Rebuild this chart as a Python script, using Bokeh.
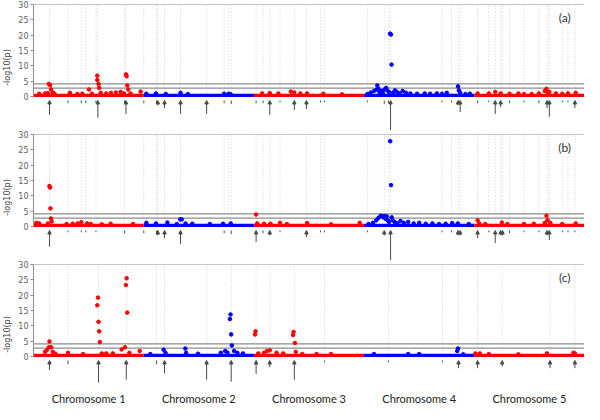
from bokeh.plotting import figure
from bokeh.layouts import column
from bokeh.models import Range1d, FixedTicker, ColumnDataSource, Arrow, NormalHead
from bokeh.core.properties import value
from bokeh.embed import file_html
from bokeh.resources import INLINE

# ---------------- data ----------------
CHROM_NAMES = ["Chromosome 1", "Chromosome 2", "Chromosome 3", "Chromosome 4", "Chromosome 5"]
CHROM_START = [0, 1, 2, 3, 4]
CHROM_END = [1, 2, 3, 4, 5]
BASELINE = 0.35
THRESH_HI = 4.1
THRESH_LO = 2.75
Y_TICKS = [0, 5, 10, 15, 20, 25, 30]

# panel (a) markers (genome position in chromosome units, -log10 p)
A_X = [0.052, 0.104, 0.130, 0.139, 0.150, 0.159, 0.174, 0.191, 0.330, 0.399, 0.443, 0.503, 0.530,
       0.579, 0.579, 0.590, 0.596, 0.610, 0.660, 0.703, 0.747, 0.790, 0.820, 0.839, 0.845, 0.851,
       0.860, 0.880, 0.972,
       1.024, 1.111, 1.200, 1.334, 1.400, 1.730, 1.771, 1.790,
       2.075, 2.144, 2.222, 2.335, 2.367, 2.422, 2.483, 2.630, 2.800,
       3.030, 3.060, 3.090, 3.110, 3.120, 3.130, 3.140, 3.155, 3.170, 3.183, 3.200, 3.210, 3.225,
       3.235, 3.244, 3.249, 3.260, 3.280, 3.300, 3.320, 3.350, 3.380, 3.420, 3.480, 3.550, 3.600,
       3.660, 3.707, 3.750, 3.852, 3.860, 3.872, 3.920, 3.960,
       4.030, 4.132, 4.190, 4.239, 4.320, 4.400, 4.451, 4.520, 4.586, 4.640, 4.655, 4.665, 4.681,
       4.740, 4.798, 4.850, 4.920]
A_Y = [0.9, 1.0, 1.1, 4.1, 3.7, 2.3, 1.3, 0.9, 1.2, 0.8, 0.9, 2.3, 0.9,
       6.8, 5.4, 4.1, 2.8, 1.2, 1.0, 1.2, 1.3, 1.5, 1.0, 7.2, 6.6, 3.6,
       2.3, 1.0, 1.6,
       0.9, 1.0, 0.8, 1.2, 0.8, 0.9, 0.9, 0.7,
       1.0, 1.1, 1.0, 1.6, 1.3, 1.0, 1.0, 0.9, 0.7,
       0.8, 1.3, 1.8, 2.2, 3.6, 2.5, 1.4, 1.8, 1.0, 2.2, 2.8, 2.0, 1.5,
       20.5, 20.2, 10.4, 1.2, 2.0, 1.4, 1.0, 1.8, 1.2, 1.0, 0.9, 1.0, 0.9,
       1.0, 0.9, 1.2, 3.3, 2.0, 1.3, 0.8, 0.9,
       1.0, 1.0, 1.5, 1.0, 0.9, 1.0, 0.8, 0.8, 1.0, 1.8, 2.5, 1.4, 1.5,
       1.0, 0.9, 1.0, 1.2]

B_X = [0.026, 0.052, 0.130, 0.145, 0.150, 0.154, 0.159, 0.165, 0.300, 0.356, 0.399, 0.434, 0.486,
       0.520, 0.620, 0.700, 0.903,
       1.024, 1.111, 1.215, 1.300, 1.330, 1.345, 1.380, 1.441, 1.600, 1.720, 1.790,
       2.020, 2.030, 2.092, 2.150, 2.237, 2.300, 2.483, 2.700, 2.960,
       3.040, 3.080, 3.110, 3.130, 3.150, 3.165, 3.175, 3.185, 3.195, 3.205, 3.215, 3.225,
       3.237, 3.244, 3.250, 3.260, 3.280, 3.300, 3.330, 3.360, 3.400, 3.450, 3.500, 3.560,
       3.620, 3.680, 3.740, 3.800, 3.850, 3.950,
       4.030, 4.045, 4.100, 4.250, 4.300, 4.450, 4.540, 4.640, 4.655, 4.665, 4.690, 4.798, 4.920]
B_Y = [1.2, 1.0, 1.0, 13.2, 12.7, 5.9, 2.6, 1.6, 0.8, 0.9, 1.0, 1.4, 1.0,
       0.8, 0.7, 0.9, 0.8,
       1.2, 1.0, 1.3, 0.8, 2.3, 2.3, 1.0, 0.9, 0.8, 0.9, 1.0,
       3.9, 1.0, 0.9, 0.9, 1.2, 0.8, 1.1, 0.7, 1.2,
       0.8, 1.2, 2.0, 2.8, 3.5, 3.3, 3.0, 3.4, 2.5, 3.3, 2.0, 1.5,
       27.8, 13.5, 3.0, 2.0, 1.4, 1.0, 1.8, 1.2, 1.5, 1.0, 1.2, 0.9,
       1.0, 0.8, 0.9, 1.1, 1.0, 0.8,
       2.0, 1.0, 0.8, 1.3, 0.8, 0.8, 0.9, 1.2, 3.5, 2.0, 1.2, 0.8, 1.0]

C_X = [0.104, 0.120, 0.139, 0.145, 0.160, 0.175, 0.200, 0.313, 0.450,
       0.579, 0.585, 0.590, 0.596, 0.602, 0.620, 0.660, 0.720, 0.800, 0.830,
       0.839, 0.845, 0.851, 0.870, 0.964,
       1.060, 1.181, 1.198, 1.378, 1.385, 1.493, 1.700, 1.740, 1.760,
       1.782, 1.788, 1.794, 1.800, 1.820, 1.850, 1.900,
       2.010, 2.015, 2.040, 2.092, 2.118, 2.144, 2.205, 2.266, 2.355, 2.360, 2.372, 2.380,
       2.439, 2.569, 2.700,
       3.090, 3.400, 3.500, 3.845, 3.852, 3.900,
       4.010, 4.050, 4.132, 4.400, 4.660, 4.900, 4.913]
C_Y = [1.5, 2.0, 3.0, 4.9, 3.0, 1.5, 0.9, 1.2, 0.8,
       16.7, 19.2, 11.3, 8.2, 4.7, 1.0, 1.0, 1.0, 2.3, 3.0,
       23.3, 25.5, 14.3, 1.2, 1.8,
       0.8, 2.2, 1.2, 2.6, 1.2, 0.9, 1.2, 1.8, 1.3,
       12.2, 13.7, 7.2, 3.6, 1.8, 1.2, 1.0,
       7.2, 8.2, 1.0, 1.2, 1.8, 2.0, 1.2, 1.0, 7.0, 8.0, 4.4, 1.5,
       0.8, 0.8, 0.8,
       0.8, 0.8, 0.8, 1.8, 2.6, 0.7,
       1.0, 1.0, 0.8, 0.7, 1.0, 1.2, 1.0]

# candidate gene / QTL positions (dotted lines) and marks below the axis (length in -log10 units)
A_VLINES = [0.145, 0.313, 0.434, 0.475, 0.567, 0.584, 0.827, 0.839, 1.001, 1.117, 1.128, 1.189,
            1.334, 1.571, 1.730, 1.771, 1.794, 2.020, 2.083, 2.144, 2.237, 2.367, 2.477, 2.604,
            2.641, 3.032, 3.183, 3.220, 3.240, 3.707, 3.793, 3.852, 3.872, 4.030, 4.132, 4.190,
            4.239, 4.256, 4.320, 4.451, 4.586, 4.660, 4.681, 4.798, 4.850, 4.913]
A_MARK_X = [0.145, 0.313, 0.434, 0.475, 0.567, 0.584, 0.827, 0.839, 1.001, 1.117, 1.128, 1.189,
            1.334, 1.571, 1.730, 1.794, 2.020, 2.083, 2.144, 2.237, 2.367, 2.477, 2.604, 2.641,
            3.032, 3.183, 3.220, 3.240, 3.707, 3.793, 3.852, 3.872, 4.030, 4.132, 4.190, 4.239,
            4.320, 4.451, 4.586, 4.660, 4.681, 4.798, 4.850, 4.913]
A_MARK_LEN = [4.7, 0.9, 0.9, 0.9, 0.9, 5.6, 1.2, 4.4, 0.9, 0.9, 1.6, 2.5,
              4.4, 4.4, 0.9, 1.2, 0.9, 0.9, 4.7, 0.6, 3.1, 2.8, 0.6, 0.6,
              0.6, 1.2, 0.9, 11.0, 0.6, 0.6, 1.6, 3.75, 0.9, 0.6, 4.4, 2.2,
              0.9, 0.6, 0.9, 2.5, 5.3, 0.6, 0.6, 2.5]

B_VLINES = [0.145, 0.313, 0.434, 0.475, 0.567, 0.827, 1.001, 1.117, 1.128, 1.189,
            1.334, 1.730, 1.771, 1.794, 2.020, 2.083, 2.144, 2.237, 2.477, 2.604,
            2.641, 3.032, 3.183, 3.220, 3.240, 3.707, 3.793, 3.852, 3.872, 4.030, 4.132, 4.190,
            4.239, 4.256, 4.320, 4.451, 4.586, 4.660, 4.681, 4.798, 4.850, 4.913]
B_MARK_X = [0.145, 0.313, 0.434, 0.475, 0.567, 0.827, 1.001, 1.117, 1.128, 1.189, 1.334, 1.730,
            1.794, 2.020, 2.083, 2.144, 2.237, 2.477, 2.604, 2.641, 3.032, 3.183, 3.240, 3.707,
            3.793, 3.852, 3.872, 4.030, 4.132, 4.190, 4.239, 4.256, 4.320, 4.451, 4.586, 4.660,
            4.681, 4.798, 4.850, 4.913]
B_MARK_LEN = [5.3, 0.6, 0.6, 0.6, 0.6, 0.9, 0.9, 1.2, 1.6, 2.5, 4.4, 0.9,
              1.2, 3.75, 0.9, 1.6, 0.6, 2.2, 0.6, 0.6, 0.6, 1.6, 10.0, 0.6,
              0.6, 1.6, 1.6, 2.5, 0.6, 4.1, 1.6, 1.6, 0.9, 0.6, 0.6, 1.6,
              3.1, 0.6, 0.6, 0.6]

C_VLINES = [0.145, 0.313, 0.590, 0.842, 1.117, 1.189, 1.571, 1.794, 2.020, 2.144, 2.367, 2.641,
            3.220, 3.712, 3.857, 4.030, 4.253, 4.687, 4.913]
C_MARK_X = C_VLINES
C_MARK_LEN = [3.1, 1.2, 7.2, 6.25, 1.2, 4.1, 6.25, 6.9, 4.4, 2.2, 6.25, 0.6,
              0.6, 0.6, 2.5, 2.5, 1.9, 2.5, 2.5]

PANEL_TAGS = ["(a)", "(b)", "(c)"]

RED = "#ff0000"
BLUE = "#0000ff"
GRAY = "#8c8c8c"
ARROW = "#4a4a4a"
MARK_TIP = -1.3


def chrom_color(x):
    i = min(int(x), 4)
    return RED if i % 2 == 0 else BLUE


def make_panel(tag, xs, ys, vlines, mark_x, mark_len, height, y_start, labels=False):
    p = figure(width=584, height=height, output_backend="svg", toolbar_location=None,
               x_range=Range1d(0, 5.0), y_range=Range1d(y_start, 30),
               x_axis_location=None, min_border_top=4, min_border_bottom=0,
               min_border_right=0, min_border_left=0)
    p.outline_line_color = None
    p.grid.visible = False
    ya = p.yaxis[0]
    ya.ticker = FixedTicker(ticks=Y_TICKS)
    ya.bounds = (0, 30)
    ya.axis_label = "-log10(p)"
    ya.axis_label_text_font = "DejaVu Sans"
    ya.axis_label_text_font_size = "8px"
    ya.axis_label_text_font_style = "normal"
    ya.axis_label_text_color = "#404040"
    ya.axis_label_standoff = 3
    ya.major_label_text_font = "DejaVu Sans"
    ya.major_label_text_font_size = "8px"
    ya.major_label_text_color = "#606060"
    ya.major_label_standoff = 2
    ya.axis_line_color = GRAY
    ya.major_tick_line_color = GRAY
    ya.major_tick_out = 3
    ya.major_tick_in = 0
    ya.minor_tick_line_color = None

    # dotted candidate lines
    p.segment(x0=vlines, y0=0, x1=vlines, y1=30, line_color="#cfcfcf",
              line_dash="1 2", line_width=1)
    # box top & thresholds
    hl = [30, THRESH_HI, THRESH_LO]
    p.segment(x0=0, y0=hl, x1=5.0, y1=hl, line_color=GRAY, line_width=1.2)

    # dense non-significant markers band
    band_col = [chrom_color(s) for s in CHROM_START]
    p.segment(x0=CHROM_START, y0=BASELINE, x1=CHROM_END, y1=BASELINE,
              line_color=band_col, line_width=3.2)
    # markers
    p.scatter(x=xs, y=ys, size=3.6, marker="circle",
              color=[chrom_color(x) for x in xs])

    # marks below the axis
    ax_, a0, a1, tx, t0, t1 = [], [], [], [], [], []
    for x, L in zip(mark_x, mark_len):
        if L > 1.3:
            ax_.append(x); a0.append(MARK_TIP - L); a1.append(MARK_TIP)
        else:
            tx.append(x); t0.append(MARK_TIP - L); t1.append(MARK_TIP)
    src = ColumnDataSource(dict(x=ax_, y0=a0, y1=a1))
    p.add_layout(Arrow(end=NormalHead(size=3.5, fill_color=ARROW, line_color=ARROW, line_width=1),
                       x_start="x", y_start="y0", x_end="x", y_end="y1", source=src,
                       line_color=ARROW, line_width=1))
    p.segment(x0=tx, y0=t0, x1=tx, y1=t1, line_color=ARROW, line_width=1)

    p.text(x=[4.82], y=[25.6], text=[tag], text_font=value("Lato"), text_font_size="12px",
           text_align="center", text_baseline="middle", text_color="#333333")

    if labels:
        centers = [(s + e) / 2 for s, e in zip(CHROM_START, CHROM_END)]
        p.text(x=centers, y=-13.6, text=CHROM_NAMES, text_font=value("Lato"),
               text_font_size="11px", text_align="center", text_baseline="middle",
               text_color="#222222")
    return p


pa = make_panel(PANEL_TAGS[0], A_X, A_Y, A_VLINES, A_MARK_X, A_MARK_LEN, 130, -30 * 34 / 92)
pb = make_panel(PANEL_TAGS[1], B_X, B_Y, B_VLINES, B_MARK_X, B_MARK_LEN, 130, -30 * 34 / 92)
pc = make_panel(PANEL_TAGS[2], C_X, C_Y, C_VLINES, C_MARK_X, C_MARK_LEN, 144, -30 * 48 / 92,
                labels=True)

layout = column(pa, pb, pc, spacing=0)
open("out.html", "w").write(file_html(layout, INLINE))
